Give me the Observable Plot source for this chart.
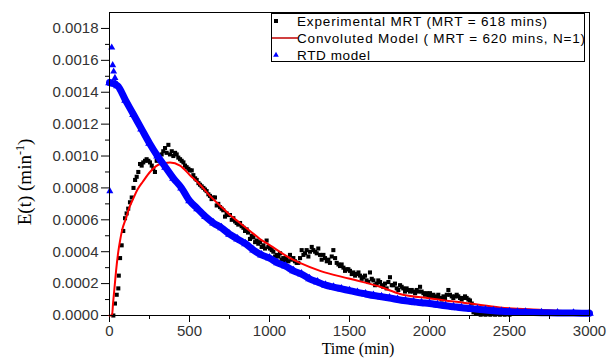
<!DOCTYPE html>
<html>
<head>
<meta charset="utf-8">
<script src="https://cdn.jsdelivr.net/npm/d3@7"></script>
<script src="https://cdn.jsdelivr.net/npm/@observablehq/plot@0.6"></script>
<style>
  html, body { margin: 0; padding: 0; background: #fff; }
  #chart svg { display: block; }
  #chart g[aria-label$="tick label"] text { fill: #333; }
</style>
</head>
<body>
<div id="chart"></div>
<script>
// ---- Data ----
const xTicks = [0, 500, 1000, 1500, 2000, 2500, 3000];
const xMinorTicks = [250, 750, 1250, 1750, 2250, 2750];
const yTicks = [0, 0.0002, 0.0004, 0.0006, 0.0008, 0.0010, 0.0012, 0.0014, 0.0016, 0.0018];
const yMinorTicks = [0.0001, 0.0003, 0.0005, 0.0007, 0.0009, 0.0011, 0.0013, 0.0015, 0.0017];

const legendLabels = [
  "Experimental MRT (MRT = 618 mins)",
  "Convoluted Model ( MRT = 620 mins, N=1)",
  "RTD model"
];

// Experimental MRT (black squares)
const expT = [24,34,45,55,58,66,76,86,97,107,117,128,139,150,160,170,180,191,201,211,222,232,243,253,264,274,284,295,305,315,326,336,347,357,368,378,389,399,410,420,430,441,451,462,472,482,493,503,514,524,535,545,556,566,576,587,597,607,618,628,638,649,659,670,680,691,701,711,722,732,743,753,764,774,785,795,805,816,826,837,847,857,866,878,889,899,910,920,930,941,951,962,972,982,993,1003,1014,1024,1035,1045,1056,1066,1076,1086,1097,1107,1118,1128,1138,1149,1159,1170,1180,1191,1201,1212,1222,1232,1243,1253,1264,1274,1285,1295,1305,1316,1326,1337,1347,1358,1368,1378,1389,1399,1410,1420,1431,1441,1451,1462,1472,1482,1493,1503,1514,1524,1535,1545,1556,1566,1576,1587,1597,1607,1618,1628,1639,1649,1660,1670,1680,1691,1701,1711,1722,1732,1743,1753,1764,1774,1784,1795,1805,1816,1826,1836,1847,1857,1868,1878,1889,1899,1910,1920,1931,1941,1951,1962,1972,1982,1993,2003,2014,2024,2035,2045,2055,2066,2076,2087,2097,2108,2118,2128,2139,2149,2160,2170,2180,2191,2201,2212,2222,2232,2243,2253,2264,2275,2290,2305,2320,2335,2350,2365,2380,2395,2410,2425,2440,2455,2470,2485,2500];
const expV = [0,0.000075,0.00013,0.00017,0.00025,0.00036,0.00044,0.00053,0.00061,0.00064,0.00067,0.00071,0.00074,0.0008,0.00085,0.00087,0.0009,0.00095,0.00094,0.00096,0.00097,0.00098,0.00097,0.00096,0.00094,0.00092,0.0009,0.00097,0.00099,0.00098,0.00101,0.00103,0.00105,0.00102,0.00107,0.00101,0.00103,0.001,0.00102,0.00101,0.00099,0.00098,0.00097,0.00096,0.00094,0.00093,0.00092,0.00091,0.00091,0.00088,0.00086,0.00085,0.00083,0.00082,0.00081,0.0008,0.00079,0.00078,0.00076,0.00075,0.00073,0.00074,0.00074,0.00069,0.0007,0.00068,0.00067,0.00066,0.00062,0.00064,0.00063,0.00063,0.0006,0.00061,0.00059,0.00058,0.00057,0.00058,0.00056,0.00055,0.00053,0.00054,0.00052,0.00048,0.0005,0.00049,0.00046,0.00047,0.00045,0.00046,0.00043,0.00044,0.00042,0.00047,0.00043,0.00042,0.00041,0.0004,0.00037,0.00038,0.00037,0.00039,0.00035,0.00036,0.00034,0.00036,0.00034,0.00038,0.00035,0.00036,0.00034,0.00033,0.00033,0.00036,0.00041,0.00038,0.00039,0.00041,0.00037,0.0004,0.00043,0.00041,0.0004,0.00039,0.00042,0.00038,0.00035,0.00038,0.00036,0.00034,0.00035,0.00033,0.00037,0.00041,0.00036,0.00033,0.00032,0.00031,0.00032,0.0003,0.00028,0.00029,0.00029,0.00028,0.00026,0.00027,0.00025,0.00026,0.00027,0.00025,0.00023,0.00024,0.00025,0.00022,0.00021,0.00027,0.00023,0.00022,0.00019,0.0002,0.00022,0.00021,0.00019,0.00018,0.0002,0.00017,0.00021,0.00024,0.00019,0.00019,0.0002,0.00017,0.00016,0.00019,0.00018,0.00017,0.00015,0.00017,0.00016,0.00015,0.00016,0.00015,0.00014,0.00016,0.00015,0.00018,0.00015,0.00014,0.00013,0.00014,0.00012,0.00014,0.00012,0.00013,0.00012,0.00011,0.00013,0.00011,0.0001,0.00012,0.00011,0.00013,0.00016,0.00013,0.00012,0.00011,0.00012,0.00013,0.00012,0.00011,0.0001,0.00011,0.00012,0.00011,0.0001,0.000094,0.000075,0.00002,0.00001,0.00001,0.000005,0.00001,0.000005,0.00001,0.000005,0.00001,0.000005,0.00001,0.000005,0.00001,0.000005,0.00001,0.000005];

// Convoluted model (red line)
const redT = [0,16,22,30,41,55,66,80,103,125,147,175,209,253,316,378,441,503,566,628,690,753,815,878,940,1003,1128,1190,1316,1503,1691,1816,2003,2253,2440,2700,3000];
const redV = [0,0,0.000075,0.00016,0.00028,0.0004,0.00047,0.00054,0.00061,0.00068,0.00073,0.00079,0.00084,0.0009,0.00095,0.00096,0.00094,0.00088,0.00082,0.00075,0.00069,0.00063,0.00058,0.00053,0.00048,0.00044,0.00036,0.00033,0.00028,0.00023,0.00018,0.000135,0.000107,0.000075,0.00005,0.000035,0.00002];

// RTD model (blue triangles, dense band)
const blueT = [0,50,100,150,200,250,300,350,400,450,500,550,600,650,700,750,800,850,900,950,1000,1050,1100,1150,1200,1250,1300,1350,1400,1450,1500,1550,1600,1650,1700,1750,1800,1850,1900,1950,2000,2050,2100,2150,2200,2250,2300,2350,2400,2450,2500,2550,2600,2700,2800,2900,3000];
const blueV = [0.00146,0.00144,0.00135,0.00126,0.00117,0.00108,0.001,0.00093,0.00086,0.0008,0.00072,0.00067,0.00062,0.00058,0.00055,0.00051,0.00048,0.00045,0.00041,0.00038,0.00036,0.00033,0.00031,0.00028,0.00026,0.00023,0.00021,0.00019,0.000178,0.000167,0.000156,0.000145,0.000135,0.000125,0.000118,0.00011,0.0001,0.000092,0.000086,0.00008,0.000075,0.000068,0.000061,0.000055,0.000049,0.000044,0.000039,0.000034,0.00003,0.000026,0.000023,0.000021,0.00002,0.000018,0.000016,0.000015,0.000014];
// early scattered RTD triangles
const blueEarlyT = [2,14,20,26,34,5,15,25,35,45];
const blueEarlyV = [0.00078,0.00168,0.00157,0.00153,0.00149,0.00146,0.00146,0.00145,0.00146,0.00145];

// ---- Build tables ----
const expData = expT.map((t, i) => ({t, v: expV[i]}));
const redData = redT.map((t, i) => ({t, v: redV[i]}));
const blueData = blueT.map((t, i) => ({t, v: blueV[i]}));
const blueEarly = blueEarlyT.map((t, i) => ({t, v: blueEarlyV[i]}));

const BLUE = "#0000ff", RED = "#ff0000";

const chart = Plot.plot({
  width: 607,
  height: 358,
  marginLeft: 109,
  marginRight: 18,
  marginTop: 12,
  marginBottom: 43,
  style: {fontFamily: "'Liberation Sans', Arial, sans-serif", fontSize: "15px", color: "#000", background: "#fff"},
  x: {domain: [0, 3000], label: null},
  y: {domain: [0, 0.0019], label: null},
  marks: [
    Plot.axisX(xTicks, {tickSize: 7, tickPadding: 3, fontSize: 15, label: null, tickFormat: d => String(d)}),
    Plot.axisX(xMinorTicks, {tickSize: 4, label: null, tickFormat: () => ""}),
    Plot.axisY(yTicks, {tickSize: 8, tickPadding: 3, fontSize: 15, label: null, tickFormat: d => d.toFixed(4)}),
    Plot.axisY(yMinorTicks, {tickSize: 4, label: null, tickFormat: () => ""}),
    Plot.dot(expData, {x: "t", y: "v", symbol: "square", r: 2.3, fill: "#000", stroke: null}),
    Plot.line(redData, {x: "t", y: "v", stroke: RED, strokeWidth: 2, curve: "monotone-x"}),
    Plot.line(blueData, {x: "t", y: "v", stroke: BLUE, strokeWidth: 7, curve: "monotone-x"}),
    Plot.dot(blueData, {x: "t", y: "v", symbol: "triangle", r: 3.2, fill: BLUE, stroke: null}),
    Plot.dot(blueEarly, {x: "t", y: "v", symbol: "triangle", r: 2.6, fill: BLUE, stroke: null}),
    Plot.frame({stroke: "#000", strokeWidth: 1})
  ]
});

document.getElementById("chart").appendChild(chart);

// ---- Axis titles and legend ----
const svg = d3.select(chart);

svg.append("text")
  .attr("x", 358).attr("y", 354)
  .attr("text-anchor", "middle")
  .style("font-family", "'Liberation Serif', 'Times New Roman', serif")
  .style("font-size", "16px")
  .attr("fill", "#000")
  .text("Time (min)");

const yt = svg.append("text")
  .attr("transform", "translate(31,182) rotate(-90)")
  .attr("text-anchor", "middle")
  .style("font-family", "'Liberation Serif', 'Times New Roman', serif")
  .style("font-size", "19px")
  .attr("fill", "#000");
yt.append("tspan").text("E(t) (min");
yt.append("tspan").attr("dy", -7).style("font-size", "12px").text("-1");
yt.append("tspan").attr("dy", 7).text(")");

const lg = svg.append("g").attr("text-anchor", "start");
lg.append("rect")
  .attr("x", 271.5).attr("y", 13.5).attr("width", 313).attr("height", 48)
  .attr("fill", "#fff").attr("stroke", "#000").attr("stroke-width", 1);
const rowsY = [21, 38, 55];
const textLens = [250, 288, 73];
legendLabels.forEach((lab, i) => {
  lg.append("text")
    .attr("x", 297).attr("y", rowsY[i]).attr("dy", "0.35em")
    .attr("text-anchor", "start")
    .attr("textLength", textLens[i]).attr("lengthAdjust", "spacing")
    .style("font-family", "'Liberation Sans', Arial, sans-serif")
    .style("font-size", "13.5px")
    .attr("fill", "#000")
    .text(lab);
});
lg.append("rect").attr("x", 274).attr("y", rowsY[0] - 2).attr("width", 4).attr("height", 4).attr("fill", "#000");
lg.append("line").attr("x1", 272).attr("x2", 298).attr("y1", rowsY[1]).attr("y2", rowsY[1])
  .attr("stroke", "#c00000").attr("stroke-width", 1.5);
lg.append("path").attr("d", d3.symbol(d3.symbolTriangle, 14)()).attr("transform", `translate(276,${rowsY[2]})`).attr("fill", BLUE);
</script>
</body>
</html>
